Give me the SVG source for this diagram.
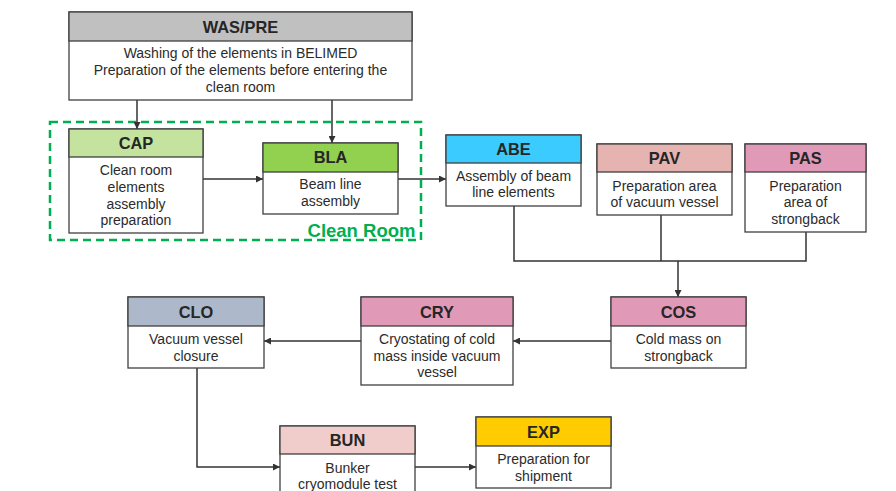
<svg xmlns="http://www.w3.org/2000/svg" width="896" height="491" viewBox="0 0 896 491">
<defs>
<marker id="ah" viewBox="0 0 10 10" refX="10" refY="5" markerWidth="7" markerHeight="7" markerUnits="userSpaceOnUse" orient="auto">
<path d="M0,0 L10,5 L0,10 z" fill="#333"/>
</marker>
<style>
.box{fill:#fff;stroke:#404040;stroke-width:1.3}
.hd{stroke:#404040;stroke-width:1.3}
.t{font-family:"Liberation Sans",Arial,sans-serif;font-weight:bold;font-size:16.4px;fill:#262626;text-anchor:middle}
.b{font-family:"Liberation Sans",Arial,sans-serif;font-size:14px;fill:#2b2b2b;text-anchor:middle}
.c{fill:none;stroke:#333;stroke-width:1.5}
</style>
</defs>
<rect width="896" height="491" fill="#fff"/>
<rect x="50" y="122" width="371" height="118" fill="none" stroke="#00b050" stroke-width="2.5" stroke-dasharray="8,5"/>
<text x="361.5" y="237" font-family="Liberation Sans,Arial,sans-serif" font-weight="bold" font-size="18.5" fill="#00b050" text-anchor="middle">Clean Room</text>
<g id="connectors">
<path class="c" d="M137,100 V129" marker-end="url(#ah)"/>
<path class="c" d="M332,100 V143" marker-end="url(#ah)"/>
<path class="c" d="M203,179 H263" marker-end="url(#ah)"/>
<path class="c" d="M398,179 H446" marker-end="url(#ah)"/>
<path class="c" d="M514,206 V261 H806 V232"/>
<path class="c" d="M661,215 V261"/>
<path class="c" d="M678,261 V297" marker-end="url(#ah)"/>
<path class="c" d="M611,341 H513" marker-end="url(#ah)"/>
<path class="c" d="M361,341 H264" marker-end="url(#ah)"/>
<path class="c" d="M197,368 V467 H280" marker-end="url(#ah)"/>
<path class="c" d="M415,467 H476" marker-end="url(#ah)"/>
</g>
<g id="WASPRE">
<rect class="box" x="69" y="12" width="343" height="88"/>
<rect class="hd" x="69" y="12" width="343" height="29" fill="#c0c0c0"/>
<text class="t" x="240.5" y="32.5">WAS/PRE</text>
<text class="b" x="240.5" y="58">Washing of the elements in BELIMED</text>
<text class="b" x="240.5" y="75">Preparation of the elements before entering the</text>
<text class="b" x="240.5" y="92">clean room</text>
</g>
<g id="CAP">
<rect class="box" x="69" y="129" width="134" height="104"/>
<rect class="hd" x="69" y="129" width="134" height="28" fill="#c4e39f"/>
<text class="t" x="136" y="149">CAP</text>
<text class="b" x="136" y="175">Clean room</text>
<text class="b" x="136" y="192">elements</text>
<text class="b" x="136" y="209">assembly</text>
<text class="b" x="136" y="225">preparation</text>
</g>
<g id="BLA">
<rect class="box" x="263" y="143" width="135" height="71"/>
<rect class="hd" x="263" y="143" width="135" height="29" fill="#92d050"/>
<text class="t" x="330.5" y="163">BLA</text>
<text class="b" x="330.5" y="189">Beam line</text>
<text class="b" x="330.5" y="206">assembly</text>
</g>
<g id="ABE">
<rect class="box" x="446" y="135" width="135" height="71"/>
<rect class="hd" x="446" y="135" width="135" height="28" fill="#3ccbff"/>
<text class="t" x="513.5" y="155">ABE</text>
<text class="b" x="513.5" y="181">Assembly of beam</text>
<text class="b" x="513.5" y="197">line elements</text>
</g>
<g id="PAV">
<rect class="box" x="597" y="144" width="135" height="71"/>
<rect class="hd" x="597" y="144" width="135" height="28" fill="#e6b4b0"/>
<text class="t" x="664.5" y="164">PAV</text>
<text class="b" x="664.5" y="191">Preparation area</text>
<text class="b" x="664.5" y="207">of vacuum vessel</text>
</g>
<g id="PAS">
<rect class="box" x="745" y="144" width="121" height="88"/>
<rect class="hd" x="745" y="144" width="121" height="28" fill="#e09ab8"/>
<text class="t" x="805.5" y="164">PAS</text>
<text class="b" x="805.5" y="191">Preparation</text>
<text class="b" x="805.5" y="207">area of</text>
<text class="b" x="805.5" y="224">strongback</text>
</g>
<g id="COS">
<rect class="box" x="611" y="297" width="135" height="71"/>
<rect class="hd" x="611" y="297" width="135" height="29" fill="#e09ab8"/>
<text class="t" x="678.5" y="318">COS</text>
<text class="b" x="678.5" y="344">Cold mass on</text>
<text class="b" x="678.5" y="361">strongback</text>
</g>
<g id="CRY">
<rect class="box" x="361" y="297" width="152" height="88"/>
<rect class="hd" x="361" y="297" width="152" height="29" fill="#e09ab8"/>
<text class="t" x="437" y="318">CRY</text>
<text class="b" x="437" y="344">Cryostating of cold</text>
<text class="b" x="437" y="361">mass inside vacuum</text>
<text class="b" x="437" y="377">vessel</text>
</g>
<g id="CLO">
<rect class="box" x="128" y="297" width="136" height="71"/>
<rect class="hd" x="128" y="297" width="136" height="29" fill="#adb9ca"/>
<text class="t" x="196" y="318">CLO</text>
<text class="b" x="196" y="344">Vacuum vessel</text>
<text class="b" x="196" y="361">closure</text>
</g>
<g id="BUN">
<rect class="box" x="280" y="426" width="135" height="80"/>
<rect class="hd" x="280" y="426" width="135" height="28" fill="#f0cccb"/>
<text class="t" x="347.5" y="446">BUN</text>
<text class="b" x="347.5" y="473">Bunker</text>
<text class="b" x="347.5" y="489">cryomodule test</text>
</g>
<g id="EXP">
<rect class="box" x="476" y="417" width="135" height="71"/>
<rect class="hd" x="476" y="417" width="135" height="29" fill="#ffcc00"/>
<text class="t" x="543.5" y="438">EXP</text>
<text class="b" x="543.5" y="464">Preparation for</text>
<text class="b" x="543.5" y="481">shipment</text>
</g>
</svg>
